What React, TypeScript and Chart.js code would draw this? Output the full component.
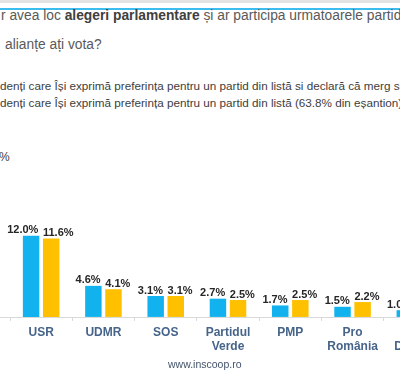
import React, { useEffect, useRef } from "react";
import { Chart, registerables } from "chart.js";

Chart.register(...registerables);

const categories: string[][] = [
  ["USR"],
  ["UDMR"],
  ["SOS"],
  ["Partidul", "Verde"],
  ["PMP"],
  ["Pro", "România"],
  ["Forța", "Dreptei"],
];
const seriesDeclared = [12.0, 4.6, 3.1, 2.7, 1.7, 1.5, 1.0];
const seriesAll = [11.6, 4.1, 3.1, 2.5, 2.5, 2.2, 1.3];

const BLUE = "#12B2EE";
const YELLOW = "#FFC000";
const LABEL_BLUE = "#46648A";

const valueLabels = {
  id: "valueLabels",
  afterDatasetsDraw(chart: any) {
    const ctx = chart.ctx;
    ctx.save();
    ctx.font = "bold 11px Arial, 'Liberation Sans', sans-serif";
    ctx.fillStyle = "#262626";
    ctx.textBaseline = "bottom";
    chart.data.datasets.forEach((ds: any, di: number) => {
      const meta = chart.getDatasetMeta(di);
      meta.data.forEach((bar: any, i: number) => {
        const v = ds.data[i] as number;
        const txt = v.toFixed(1) + "%";
        const half = bar.width / 2;
        if (di === 0) {
          ctx.textAlign = "right";
          ctx.fillText(txt, bar.x + half - 1, bar.y);
        } else {
          ctx.textAlign = "left";
          ctx.fillText(txt, bar.x - half, bar.y);
        }
      });
    });
    ctx.restore();
  },
};

const axisLine = {
  id: "axisLine",
  beforeDatasetsDraw(chart: any) {
    const ctx = chart.ctx;
    const y = Math.round(chart.chartArea.bottom) + 0.5;
    ctx.save();
    ctx.strokeStyle = "#D9D9D9";
    ctx.lineWidth = 1;
    ctx.beginPath();
    ctx.moveTo(0, y);
    ctx.lineTo(chart.width, y);
    ctx.stroke();
    ctx.restore();
  },
};

export default function App() {
  const ref = useRef<HTMLCanvasElement | null>(null);

  useEffect(() => {
    if (!ref.current) return;
    const chart = new Chart(ref.current, {
      type: "bar",
      data: {
        labels: categories as any,
        datasets: [
          {
            label: "declarați",
            data: seriesDeclared,
            backgroundColor: BLUE,
            categoryPercentage: 0.645,
            barPercentage: 0.82,
          },
          {
            label: "toți",
            data: seriesAll,
            backgroundColor: YELLOW,
            categoryPercentage: 0.645,
            barPercentage: 0.82,
          },
        ],
      },
      options: {
        responsive: false,
        animation: false,
        devicePixelRatio: 1,
        layout: { padding: { left: 10, right: 10, top: 20, bottom: 11 } },
        plugins: {
          legend: { display: false },
          tooltip: { enabled: false },
          title: { display: false },
        },
        scales: {
          x: {
            offset: true,
            border: { display: false },
            grid: {
              display: true,
              offset: true,
              drawOnChartArea: false,
              drawTicks: true,
              tickLength: 4,
              color: "#D9D9D9",
            },
            ticks: {
              color: LABEL_BLUE,
              font: { family: "Arial, 'Liberation Sans', sans-serif", size: 12, weight: "bold", lineHeight: 1.17 },
              padding: 5,
              maxRotation: 0,
              autoSkip: false,
            },
          },
          y: {
            display: false,
            min: 0,
            max: 14.35,
          },
        },
      },
      plugins: [axisLine, valueLabels],
    });
    return () => chart.destroy();
  }, []);

  const textBase: React.CSSProperties = {
    position: "absolute",
    whiteSpace: "nowrap",
    fontFamily: "Arial, 'Liberation Sans', sans-serif",
    lineHeight: "1",
  };

  return (
    <div
      style={{
        position: "fixed",
        left: 0,
        top: 0,
        width: 400,
        height: 375,
        overflow: "hidden",
        background: "#ffffff",
      }}
    >
      <div style={{ position: "absolute", left: 0, top: 0, width: 400, height: 3, background: "#E3E3E3" }} />
      <div style={{ position: "absolute", left: 0, top: 8, width: 400, height: 2, background: "#3DBDED" }} />
      <div style={{ ...textBase, left: 1, top: 9, fontSize: 13.8, color: "#595959" }}>
        r avea loc <b style={{ color: "#404040" }}>alegeri parlamentare</b> și ar participa urmatoarele partide
      </div>
      <div style={{ ...textBase, left: 5, top: 38, fontSize: 13.8, color: "#595959" }}>alianțe ați vota?</div>
      <div style={{ ...textBase, left: 0, top: 80, fontSize: 11.7, color: "#404040" }}>
        denți care Își exprimă preferința pentru un partid din listă si declară că merg sigur la vot
      </div>
      <div style={{ ...textBase, left: 0, top: 97, fontSize: 11.7, color: "#404040" }}>
        denți care Își exprimă preferința pentru un partid din listă (63.8% din eșantion)
      </div>
      <div style={{ ...textBase, left: -1, top: 151, fontSize: 12, color: "#404040" }}>%</div>
      <canvas
        ref={ref}
        width={456}
        height={170}
        style={{ position: "absolute", left: 0, top: 200, width: 456, height: 170, display: "block" }}
      />
      <div style={{ ...textBase, left: 168, top: 359, fontSize: 10.5, color: "#44546A" }}>www.inscoop.ro</div>
    </div>
  );
}
